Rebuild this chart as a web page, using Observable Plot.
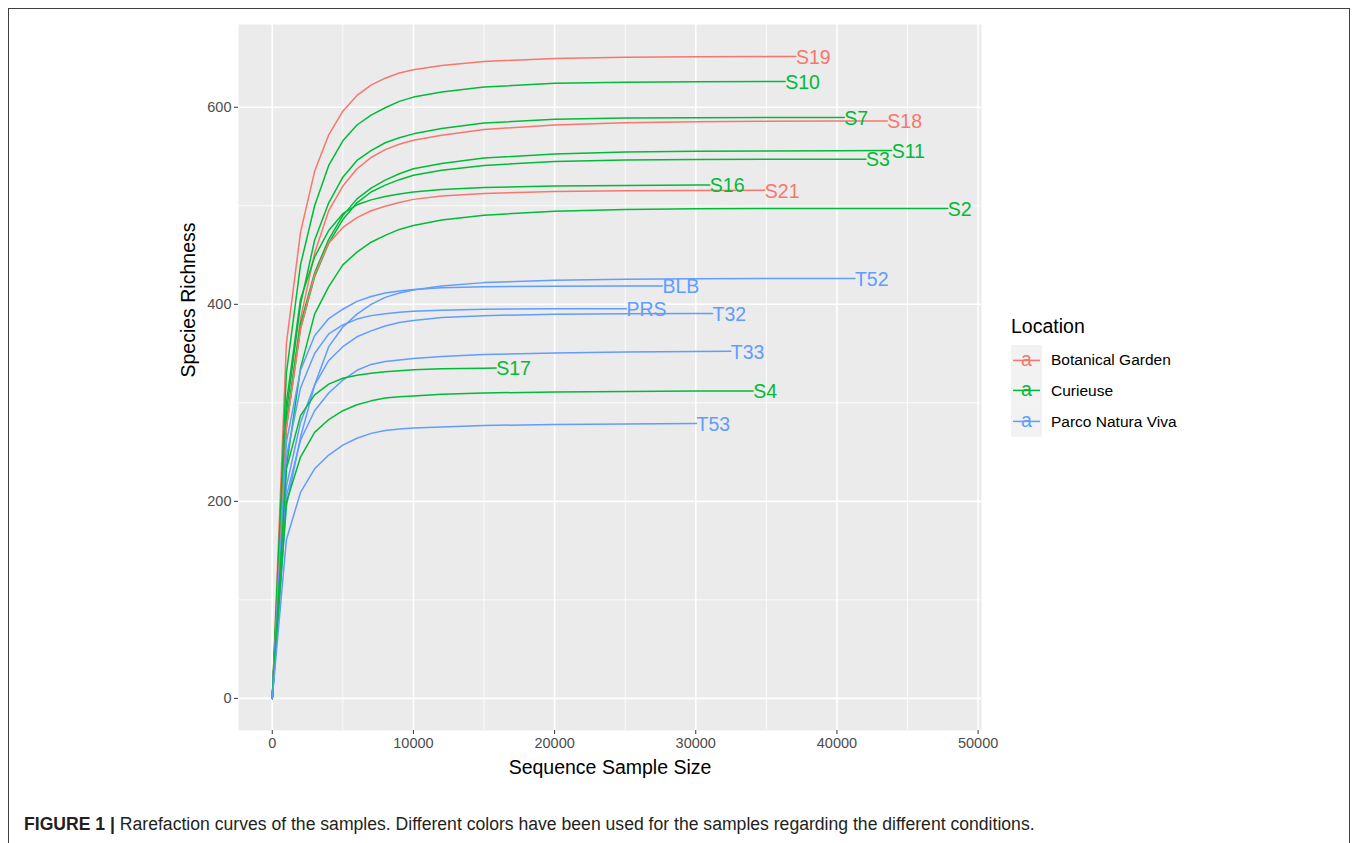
<!DOCTYPE html>
<html>
<head>
<meta charset="utf-8">
<script src="https://cdn.jsdelivr.net/npm/d3@7"></script>
<script src="https://cdn.jsdelivr.net/npm/@observablehq/plot@0.6"></script>
<style>
  body { margin: 0; background: #fff; font-family: "Liberation Sans", Arial, sans-serif; }
  #fig { position: relative; width: 1357px; height: 843px; overflow: hidden; background: #fff; }
  #border { position: absolute; left: 8px; top: 8px; width: 1342px; height: 860px; border: 1px solid #404040; box-sizing: border-box; }
  #chart { position: absolute; left: 0; top: 0; }
  .abs { position: absolute; white-space: nowrap; }
  #caption { left: 24px; top: 813px; font-size: 17.6px; line-height: 22px; color: #231f20; }
</style>
</head>
<body>
<div id="fig">
  <div id="border"></div>
  <div id="chart"></div>
  <div id="legend"></div>
  <div id="caption" class="abs"><b>FIGURE 1 |</b> Rarefaction curves of the samples. Different colors have been used for the samples regarding the different conditions.</div>
</div>
<script>
// Rarefaction curves: richness read at fixed subsampling depths, last value at the full sample depth
const stepSizes = [0, 1000, 2000, 3000, 4000, 5000, 6000, 7000, 8000, 9000, 10000, 12000, 15000, 20000, 25000, 30000, 35000, 40000, 45000];

const locationNames = ["Botanical Garden", "Curieuse", "Parco Natura Viva"];
const locationColors = ["#F8766D", "#00BA38", "#619CFF"];

const sampleNames = ["S19", "S10", "S7", "S18", "S11", "S3", "S16", "S21", "S2", "T52", "BLB", "PRS", "T32", "T33", "S17", "S4", "T53"];
const sampleLocations = ["Botanical Garden", "Curieuse", "Curieuse", "Botanical Garden", "Curieuse", "Curieuse", "Curieuse", "Botanical Garden", "Curieuse",
  "Parco Natura Viva", "Parco Natura Viva", "Parco Natura Viva", "Parco Natura Viva", "Parco Natura Viva", "Curieuse", "Curieuse", "Parco Natura Viva"];
const sampleDepths = [37092, 36333, 40518, 43567, 43876, 42057, 30993, 34894, 47849, 41277, 27638, 25085, 31184, 32482, 15865, 34066, 30050];

const richS19 = [0, 360, 473, 535, 572, 596, 612, 622.5, 629.5, 634.8, 638, 642.5, 646.5, 649.5, 650.8, 651.2, 651.4, 651.4];
const richS10 = [0, 330, 440, 500, 541, 566, 582, 592, 599.5, 606, 610.3, 615.5, 620.5, 624.3, 625.5, 626, 626.1, 626.1];
const richS7  = [0, 290, 400, 465, 503, 529, 546, 556, 564, 569, 573, 578.5, 584, 587.8, 589, 589.4, 589.5, 589.6, 589.6];
const richS18 = [0, 275, 385, 452, 495, 520, 537.5, 549, 557, 562.4, 566.5, 571.5, 577.5, 582, 584.2, 585.2, 585.7, 586, 586.1];
const richS11 = [0, 280, 380, 432, 466, 490, 507, 518, 526, 532.5, 537.5, 543, 548.5, 552.5, 554.5, 555.3, 555.6, 555.8, 556];
const richS3  = [0, 275, 375, 428, 462, 486, 503, 514, 521, 526.5, 531, 536, 541, 545, 546.5, 547, 547.2, 547.3, 547.3];
const richS16 = [0, 300, 405, 448, 475, 492, 501, 506, 509.5, 512, 514, 516.5, 518.5, 520, 520.7, 521, 521];
const richS21 = [0, 275, 375, 430, 462, 478, 488, 495, 499.5, 503.3, 506.5, 510, 512.5, 514.5, 515.3, 515.6, 515.7];
const richS2  = [0, 235, 335, 390, 418, 440, 453, 463, 470, 476, 480, 485.5, 490.5, 494.5, 496.3, 497, 497.2, 497.3, 497.3, 497.3];
const richT52 = [0, 195, 265, 318, 357, 377, 390, 400, 407, 411.5, 414.5, 418.5, 422, 424.5, 425.5, 426, 426.1, 426.1, 426.1];
const richBLB = [0, 260, 333, 368, 385.5, 395, 403, 408, 411.5, 413.5, 415, 416.8, 417.8, 418.4, 418.6, 418.6];
const richPRS = [0, 245, 315, 350, 370, 379, 385, 388.5, 390.5, 392, 393, 394, 395, 395.5, 395.6, 395.6];
const richT32 = [0, 215, 280, 318, 343, 357, 367, 373, 378, 381.5, 383.5, 386.5, 388.5, 390, 390.5, 390.6, 390.6];
const richT33 = [0, 205, 262, 292, 310, 323, 333, 339, 342, 343.5, 345, 347, 349, 350.5, 351.5, 352, 352.3];
const richS17 = [0, 233, 287, 308, 319, 325, 328, 330, 331.5, 332.5, 333.5, 334.5, 335.2, 335.3];
const richS4  = [0, 199, 245, 270, 283, 292, 298, 302, 305, 306.2, 307, 308.7, 310, 311, 311.6, 311.9, 312];
const richT53 = [0, 161, 209, 233, 247, 257, 264, 269, 272, 273.5, 274.5, 275.5, 277, 278, 278.6, 279, 279];

const richness = [richS19, richS10, richS7, richS18, richS11, richS3, richS16, richS21, richS2,
  richT52, richBLB, richPRS, richT32, richT33, richS17, richS4, richT53];

const xTicks = [0, 10000, 20000, 30000, 40000, 50000];
const xMinor = [5000, 15000, 25000, 35000, 45000];
const yTicks = [0, 200, 400, 600];
const yMinor = [100, 300, 500];

// Long table: one row per (sample, depth)
const rows = [];
sampleNames.forEach((name, i) => {
  const r = richness[i];
  r.forEach((v, j) => {
    const n = j < r.length - 1 ? stepSizes[j] : sampleDepths[i];
    rows.push({sample: name, location: sampleLocations[i], size: n, richness: v});
  });
});
const ends = rows.filter((d, k) => k === rows.length - 1 || rows[k + 1].sample !== d.sample);

const W = 1357, H = 790;
const panelLeft = 238, panelRight = 981, panelTop = 24, panelBottom = 730;

const chart = Plot.plot({
  width: W,
  height: H,
  marginLeft: panelLeft,
  marginRight: W - panelRight,
  marginTop: panelTop,
  marginBottom: H - panelBottom,
  style: {fontFamily: "'Liberation Sans', Arial, sans-serif", background: "transparent", overflow: "visible"},
  x: {domain: [-2392, 50241]},
  y: {domain: [-32.6, 684.0]},
  color: {domain: locationNames, range: locationColors},
  marks: [
    Plot.frame({fill: "#EBEBEB", stroke: null}),
    Plot.gridX(xMinor, {stroke: "#fff", strokeOpacity: 1, strokeWidth: 0.8}),
    Plot.gridY(yMinor, {stroke: "#fff", strokeOpacity: 1, strokeWidth: 0.8}),
    Plot.gridX(xTicks, {stroke: "#fff", strokeOpacity: 1, strokeWidth: 1.6}),
    Plot.gridY(yTicks, {stroke: "#fff", strokeOpacity: 1, strokeWidth: 1.6}),
    Plot.axisX(xTicks, {tickSize: 4, tickPadding: 3, stroke: "#333", fill: "#4D4D4D", fontSize: 14.5, tickFormat: d => String(d), label: null}),
    Plot.axisY(yTicks, {tickSize: 4, tickPadding: 3, stroke: "#333", fill: "#4D4D4D", fontSize: 14.5, tickFormat: d => String(d), label: null}),
    Plot.line(rows, {x: "size", y: "richness", z: "sample", stroke: "location", strokeWidth: 1.5}),
    Plot.text(ends, {x: "size", y: "richness", text: "sample", fill: "location", textAnchor: "start", fontSize: 19.5, dy: 1}),
    Plot.text(["Sequence Sample Size"], {frameAnchor: "bottom", lineAnchor: "middle", dy: 37, fontSize: 19.5, fill: "#000"}),
    Plot.text(["Species Richness"], {frameAnchor: "left", lineAnchor: "middle", dx: -50, rotate: -90, fontSize: 19.5, fill: "#000"})
  ]
});
document.getElementById("chart").appendChild(chart);

// Legend: title plus one key per location
const legend = d3.select("#legend");
legend.append("div").attr("class", "abs")
  .style("left", "1011px").style("top", "315px")
  .style("font-size", "19.5px").style("color", "#000")
  .text("Location");
const keyTop = 344.5, keyH = 30.8;
locationNames.forEach((name, i) => {
  const y0 = keyTop + i * keyH;
  const svg = legend.append("svg").attr("class", "abs")
    .style("left", "1011px").style("top", y0 + "px")
    .attr("width", 31).attr("height", keyH);
  svg.append("rect").attr("width", 31).attr("height", keyH).attr("fill", "#F2F2F2");
  svg.append("line").attr("x1", 2).attr("x2", 29).attr("y1", keyH / 2).attr("y2", keyH / 2)
    .attr("stroke", locationColors[i]).attr("stroke-width", 1.5);
  svg.append("text").attr("x", 15.5).attr("y", keyH / 2).attr("dy", "0.3em")
    .attr("text-anchor", "middle").attr("fill", locationColors[i])
    .attr("font-family", "'Liberation Sans', Arial, sans-serif").attr("font-size", 19.5)
    .text("a");
  legend.append("div").attr("class", "abs")
    .style("left", "1051px").style("top", (y0 + keyH / 2 - 9.5) + "px")
    .style("font-size", "15.5px").style("line-height", "19px").style("color", "#000")
    .text(name);
});
</script>
</body>
</html>
